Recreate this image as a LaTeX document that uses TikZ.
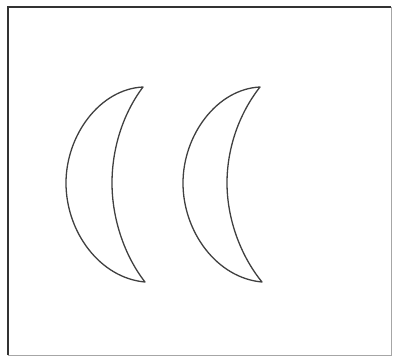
\documentclass[tikz,border=0pt]{standalone}
\begin{document}
\begin{tikzpicture}[x=1pt,y=-1pt,
  moon/.style={draw=black!75,line width=1.3pt,line join=round},
  frameline/.style={draw=black!80,line width=1.6pt},
  framelight/.style={draw=black!35,line width=1.0pt}]
\useasboundingbox (0,0) rectangle (395,362);
\fill[white] (0,0) rectangle (395,362);
% frame
\draw[framelight] (391,7) -- (391,355) -- (8,355);
\draw[frameline] (8,355) -- (8,7) -- (391,7);
% left crescent
\draw[moon] (143,87) .. controls (100,89) and (66,135) .. (66,183)
  .. controls (66,232) and (100,278) .. (145,282)
  .. controls (124,255) and (112,218) .. (112,183)
  .. controls (112,150) and (122,115) .. (143,87) -- cycle;
% right crescent
\draw[moon] (260,87) .. controls (217,89) and (183,135) .. (183,183)
  .. controls (183,232) and (217,278) .. (262,282)
  .. controls (240,255) and (227,218) .. (227,183)
  .. controls (227,150) and (238,115) .. (260,87) -- cycle;
\end{tikzpicture}
\end{document}
